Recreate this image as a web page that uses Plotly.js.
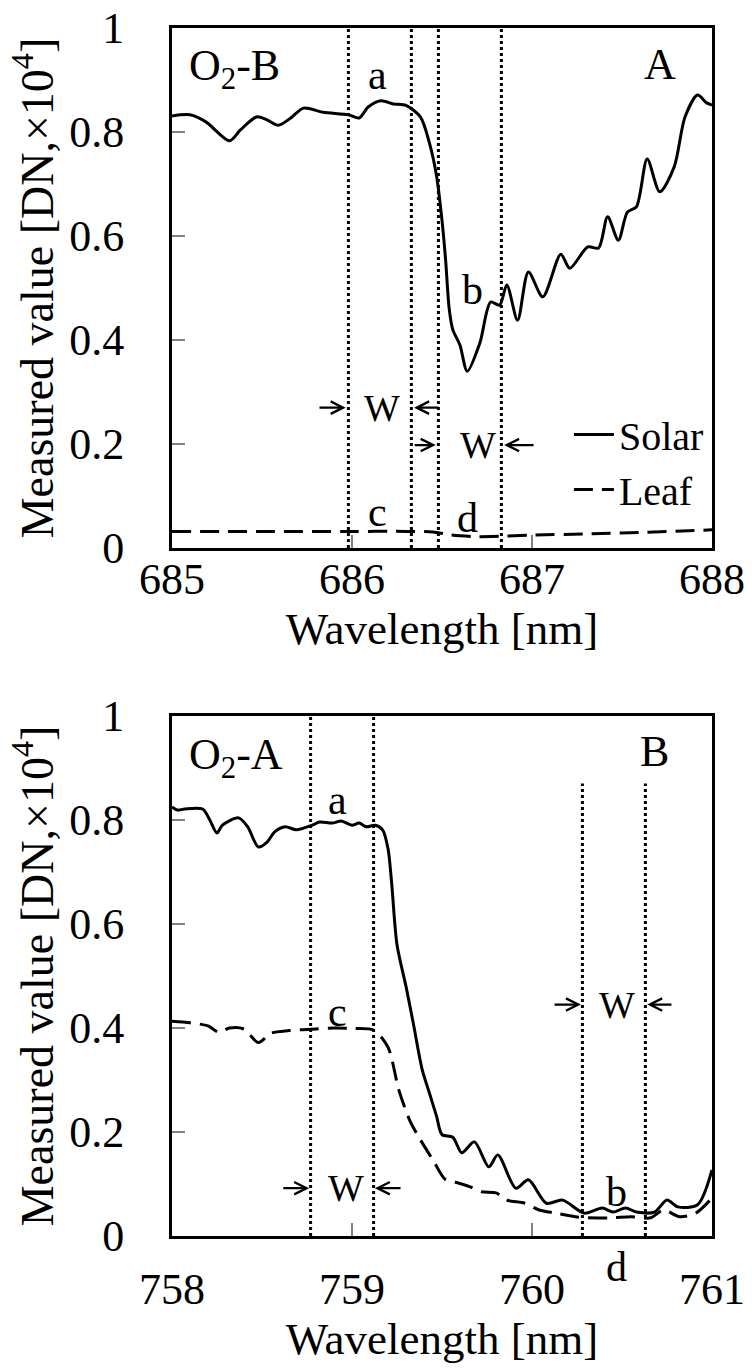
<!DOCTYPE html>
<html>
<head>
<meta charset="utf-8">
<script src="https://cdn.plot.ly/plotly-3.0.1.min.js"></script>
<style>html,body{margin:0;padding:0;background:#fff;}#chart{width:752px;height:1369px;}</style>
</head>
<body>
<div id="chart"></div>
<script>
// ---------- data ----------
const topWl = [685.00,685.10,685.19,685.32,685.38,685.47,685.53,685.59,685.66,685.73,685.84,685.98,686.04,686.09,686.16,686.23,686.30,686.38,686.43,686.47,686.50,686.52,686.54,686.56,686.60,686.64,686.71,686.77,686.82,686.86,686.92,686.98,687.06,687.16,687.21,687.31,687.37,687.42,687.48,687.53,687.58,687.64,687.71,687.79,687.85,687.92,687.97,688.00];
const topSolar = [0.831,0.833,0.819,0.783,0.804,0.829,0.823,0.813,0.827,0.846,0.838,0.833,0.827,0.848,0.860,0.854,0.851,0.829,0.779,0.715,0.630,0.554,0.460,0.420,0.390,0.340,0.394,0.473,0.467,0.506,0.438,0.531,0.483,0.565,0.538,0.579,0.577,0.637,0.592,0.646,0.656,0.748,0.685,0.733,0.829,0.871,0.856,0.852];
const topLeafWl = [685.0,685.5,686.0,686.3,686.45,686.55,686.68,686.85,687.0,687.3,687.6,688.0];
const topLeaf = [0.032,0.032,0.032,0.032,0.031,0.025,0.022,0.023,0.025,0.027,0.030,0.035];

const botWl = [758.00,758.03,758.07,758.17,758.21,758.25,758.28,758.37,758.42,758.48,758.53,758.57,758.63,758.69,758.78,758.82,758.89,758.94,759.00,759.04,759.08,759.13,759.17,759.20,759.22,759.25,759.30,759.34,759.39,759.43,759.47,759.50,759.56,759.61,759.68,759.76,759.81,759.91,759.98,760.08,760.17,760.29,760.39,760.45,760.52,760.58,760.68,760.75,760.81,760.92,761.00];
const botSolar = [0.825,0.819,0.821,0.821,0.800,0.775,0.790,0.804,0.787,0.748,0.758,0.777,0.787,0.781,0.790,0.796,0.794,0.798,0.790,0.794,0.787,0.790,0.781,0.745,0.680,0.560,0.480,0.410,0.320,0.275,0.230,0.195,0.190,0.160,0.181,0.133,0.156,0.092,0.108,0.063,0.069,0.044,0.054,0.046,0.054,0.046,0.046,0.069,0.056,0.060,0.127];
const botLeafWl = [758.00,758.10,758.20,758.26,758.32,758.40,758.48,758.55,758.65,758.80,758.90,759.00,759.12,759.20,759.26,759.32,759.38,759.45,759.52,759.59,759.66,759.72,759.80,759.86,759.96,760.04,760.13,760.24,760.31,760.44,760.55,760.66,760.73,760.82,760.91,761.00];
const botLeaf = [0.413,0.410,0.404,0.392,0.400,0.398,0.372,0.390,0.395,0.398,0.400,0.399,0.396,0.363,0.281,0.223,0.185,0.146,0.108,0.102,0.094,0.085,0.083,0.069,0.063,0.050,0.044,0.037,0.035,0.035,0.037,0.035,0.050,0.037,0.044,0.073];

const xTicksTop = [685,686,687,688];
const xTicksBot = [758,759,760,761];
const yTicks = [0,0.2,0.4,0.6,0.8,1];
const yTickText = ['0','0.2','0.4','0.6','0.8','1'];
const windowsTop = [685.98,686.33,686.48,686.83];
const windowsBot = [758.77,759.12,760.28,760.63];
const windowsBotTop = [1,1,0.87,0.87];

// ---------- style ----------
const FONT = 'Liberation Serif, Times New Roman, serif';
const leafDash = '19px,9px';

const traces = [
  {x: topWl, y: topSolar, xaxis:'x', yaxis:'y', name:'Solar', mode:'lines',
   line:{color:'#000', width:3, shape:'spline', smoothing:0.8}, legendrank:1},
  {x: topLeafWl, y: topLeaf, xaxis:'x', yaxis:'y', name:'Leaf', mode:'lines',
   line:{color:'#000', width:3, dash:leafDash, shape:'spline', smoothing:0.8}, legendrank:2},
  {x: botWl, y: botSolar, xaxis:'x2', yaxis:'y2', name:'Solar', mode:'lines', showlegend:false,
   line:{color:'#000', width:3, shape:'spline', smoothing:0.8}},
  {x: botLeafWl, y: botLeaf, xaxis:'x2', yaxis:'y2', name:'Leaf', mode:'lines', showlegend:false,
   line:{color:'#000', width:3, dash:leafDash, shape:'spline', smoothing:0.8}}
];

function xAxis(range, ticks, anchor, standoff, tstand){
  return {range: range, tickvals: ticks, ticktext: ticks.map(String), anchor: anchor,
    ticks:'inside', ticklen:13, tickwidth:1.5, tickcolor:'#808080',
    showline:true, linecolor:'#000', linewidth:3, mirror:true, showgrid:false, zeroline:false,
    tickfont:{family:FONT, size:44, color:'#000'}, ticklabelstandoff: standoff,
    title:{text:'Wavelength [nm]', font:{family:FONT, size:45, color:'#000'}, standoff:tstand}};
}
function yAxis(domain, anchor){
  return {range:[0,1], domain: domain, anchor: anchor, tickvals: yTicks, ticktext: yTickText,
    ticks:'inside', ticklen:13, tickwidth:1.5, tickcolor:'#808080',
    showline:true, linecolor:'#000', linewidth:3, mirror:true, showgrid:false, zeroline:false,
    tickfont:{family:FONT, size:44, color:'#000'}, ticklabelstandoff: 36,
    title:{text:'Measured value [DN,×10<sup>4</sup>]', font:{family:FONT, size:46, color:'#000'}, standoff:2}};
}

const shapes = [];
windowsTop.forEach(w => shapes.push({type:'line', xref:'x', yref:'y domain', x0:w, x1:w, y0:0, y1:1,
  line:{color:'#000', width:3, dash:'dot'}}));
windowsBot.forEach((w,i) => shapes.push({type:'line', xref:'x2', yref:'y2 domain', x0:w, x1:w, y0:0, y1:windowsBotTop[i],
  line:{color:'#000', width:3, dash:'dot'}}));

const ann = [];
function txt(xr, yr, x, y, t, size, anchor){
  ann.push({xref:xr, yref:yr, x:x, y:y, text:t, showarrow:false, xanchor:anchor||'center', yanchor:'middle',
    borderpad:0, font:{family:FONT, size:size||42, color:'#000'}});
}
function arrow(xr, yr, tail, head, y){
  ann.push({xref:xr, yref:yr, axref:xr, ayref:yr, x:head, y:y, ax:tail, ay:y, text:'', showarrow:true,
    arrowhead:5, arrowsize:1.1, arrowwidth:2.2, arrowcolor:'#000', standoff:0, startstandoff:0});
}
function wLabel(xr, yr, xc, lTail, lHead, rTail, rHead, y){
  txt(xr, yr, xc, y, 'W', 38);
  arrow(xr, yr, lTail, lHead, y);
  arrow(xr, yr, rTail, rHead, y);
}
// top panel
txt('x','y',685.09,0.923,'O<sub>2</sub>-B',44,'left');
txt('x','y',686.14,0.91,'a');
txt('x','y',687.71,0.929,'A',44);
txt('x','y',686.67,0.496,'b');
txt('x','y',686.14,0.069,'c');
txt('x','y',686.64,0.058,'d');
wLabel('x','y',686.167,685.811,685.965,686.489,686.345,0.27);
wLabel('x','y',686.70,686.34,686.465,687.017,686.845,0.198);
// bottom panel
txt('x2','y2',758.09,0.921,'O<sub>2</sub>-A',44,'left');
txt('x2','y2',758.92,0.838,'a');
txt('x2','y2',760.68,0.931,'B',44);
txt('x2','y2',758.92,0.431,'c');
txt('x2','y2',760.47,0.085,'b');
txt('x2','y2 domain',760.47,-0.06,'d');
wLabel('x2','y2',760.47,760.117,760.272,760.783,760.64,0.445);
wLabel('x2','y2',758.967,758.61,758.762,759.278,759.127,0.092);

const layout = {
  width:752, height:1369,
  margin:{l:172, r:40, t:28, b:133, pad:0},
  paper_bgcolor:'#fff', plot_bgcolor:'#fff',
  showlegend:true,
  legend:{x:0.735, y:0.6407, xanchor:'left', yanchor:'middle', bgcolor:'rgba(0,0,0,0)',
    font:{family:FONT, size:40, color:'#000'}, itemwidth:40, tracegroupgap:0},
  xaxis: xAxis([685,688], xTicksTop, 'y', -10, 0),
  yaxis: yAxis([0.5695,1], 'x'),
  xaxis2: xAxis([758,761], xTicksBot, 'y2', 12, 2),
  yaxis2: yAxis([0,0.4305], 'x2'),
  shapes: shapes,
  annotations: ann
};

Plotly.newPlot('chart', traces, layout, {displayModeBar:false, staticPlot:true});
</script>
</body>
</html>
